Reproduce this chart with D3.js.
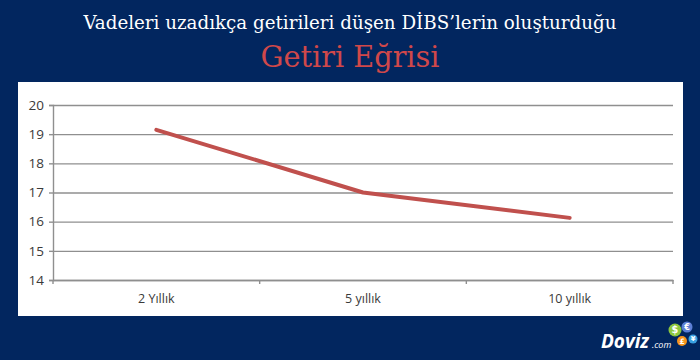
<!DOCTYPE html>
<html>
<head>
<meta charset="utf-8">
<script src="https://cdn.jsdelivr.net/npm/d3@7"></script>
<style>
  body { margin: 0; background: #02265f; }
  .axis text { font-family: "Open Sans", sans-serif; fill: #3a3a3a; }
</style>
</head>
<body>
<div id="chart-area"></div>
<script>
// data
const categories = ["2 Yıllık", "5 yıllık", "10 yıllık"]
const yields = [19.15, 17.0, 16.13]
const yTicks = [14, 15, 16, 17, 18, 19, 20]

const W = 700
const H = 360
const PLOT = { LEFT: 53, RIGHT: 673, TOP: 105, BOTTOM: 280 }

const svg = d3.select("#chart-area").append("svg")
	.attr("width", W)
	.attr("height", H)

// navy background + white panel
svg.append("rect").attr("width", W).attr("height", H).attr("fill", "#02265f")
svg.append("rect")
	.attr("x", 18).attr("y", 82)
	.attr("width", 665).attr("height", 234)
	.attr("fill", "#ffffff")

// titles
svg.append("text")
	.attr("x", 350).attr("y", 29)
	.attr("text-anchor", "middle")
	.attr("font-family", "DejaVu Serif Condensed, DejaVu Serif, serif")
	.attr("font-size", 18)
	.attr("fill", "#ffffff")
	.attr("textLength", 533)
	.attr("lengthAdjust", "spacingAndGlyphs")
	.text("Vadeleri uzadıkça getirileri düşen DİBS’lerin oluşturduğu")

svg.append("text")
	.attr("x", 350).attr("y", 67)
	.attr("text-anchor", "middle")
	.attr("font-family", "DejaVu Serif Condensed, DejaVu Serif, serif")
	.attr("font-size", 29)
	.attr("fill", "#d0484a")
	.attr("textLength", 179)
	.attr("lengthAdjust", "spacingAndGlyphs")
	.text("Getiri Eğrisi")

// scales
const x = d3.scaleBand()
	.domain(categories)
	.range([PLOT.LEFT, PLOT.RIGHT])
const y = d3.scaleLinear()
	.domain([14, 20])
	.range([PLOT.BOTTOM, PLOT.TOP])

// gridlines
const grid = svg.append("g")
	.attr("transform", `translate(${PLOT.LEFT}, 0)`)
	.call(d3.axisLeft(y).tickValues(yTicks).tickSize(-(PLOT.RIGHT - PLOT.LEFT)).tickFormat(""))
grid.select(".domain").remove()
grid.selectAll("line").attr("stroke", "#8f8f8f").attr("stroke-width", 1.4)

// y axis
const yAxis = svg.append("g")
	.attr("class", "axis")
	.attr("transform", `translate(${PLOT.LEFT}, 0)`)
	.call(d3.axisLeft(y).tickValues(yTicks).tickFormat(d3.format("d")).tickSize(4).tickPadding(5))
yAxis.select(".domain").attr("stroke", "#8f8f8f").attr("stroke-width", 1.4)
yAxis.selectAll("line").attr("stroke", "#8f8f8f").attr("stroke-width", 1.4)
yAxis.selectAll("text").attr("font-size", 13.5)

// x axis (ticks between categories, Excel style)
const xAxis = svg.append("g")
	.attr("class", "axis")
	.attr("transform", `translate(0, ${PLOT.BOTTOM})`)
	.call(d3.axisBottom(x).tickSize(0).tickPadding(14))
xAxis.select(".domain").attr("stroke", "#8f8f8f").attr("stroke-width", 1.4)
xAxis.selectAll("text").attr("font-size", 12.5)
const bounds = categories.map(c => x(c)).concat([x.range()[1]])
xAxis.selectAll(".sep").data(bounds).join("line")
	.attr("class", "sep")
	.attr("x1", d => d).attr("x2", d => d)
	.attr("y1", 0).attr("y2", 4)
	.attr("stroke", "#8f8f8f").attr("stroke-width", 1.4)

// the curve
const line = d3.line()
	.x((d, i) => x(categories[i]) + x.bandwidth() / 2)
	.y(d => y(d))

svg.append("path")
	.datum(yields)
	.attr("d", line)
	.attr("fill", "none")
	.attr("stroke", "#c0504d")
	.attr("stroke-width", 4)
	.attr("stroke-linejoin", "round")
	.attr("stroke-linecap", "round")

// Doviz.com logo
const logo = svg.append("g")
logo.append("text")
	.attr("x", 601).attr("y", 348)
	.attr("font-family", "Open Sans, sans-serif")
	.attr("font-weight", "bold").attr("font-style", "italic")
	.attr("font-size", 19).attr("fill", "#ffffff")
	.text("Doviz")
logo.append("text")
	.attr("x", 652).attr("y", 348)
	.attr("font-family", "Open Sans, sans-serif")
	.attr("font-style", "italic")
	.attr("font-size", 9).attr("fill", "#ffffff")
	.text(".com")
const coins = [
	{ cx: 675, cy: 330, r: 6.5, fill: "#8cc63f", s: "$" },
	{ cx: 687, cy: 327, r: 5.5, fill: "#5b7fd6", s: "€" },
	{ cx: 682, cy: 341, r: 5, fill: "#f7941d", s: "£" },
	{ cx: 693, cy: 339, r: 4.5, fill: "#3aa0e0", s: "¥" }
]
logo.selectAll("circle").data(coins).join("circle")
	.attr("cx", d => d.cx).attr("cy", d => d.cy).attr("r", d => d.r)
	.attr("fill", d => d.fill)
logo.selectAll(".coin").data(coins).join("text")
	.attr("class", "coin")
	.attr("x", d => d.cx).attr("y", d => d.cy)
	.attr("dy", "0.35em")
	.attr("text-anchor", "middle")
	.attr("font-family", "DejaVu Sans, sans-serif")
	.attr("font-weight", "bold")
	.attr("font-size", d => d.r * 1.5)
	.attr("fill", "#ffffff")
	.text(d => d.s)
</script>
</body>
</html>
